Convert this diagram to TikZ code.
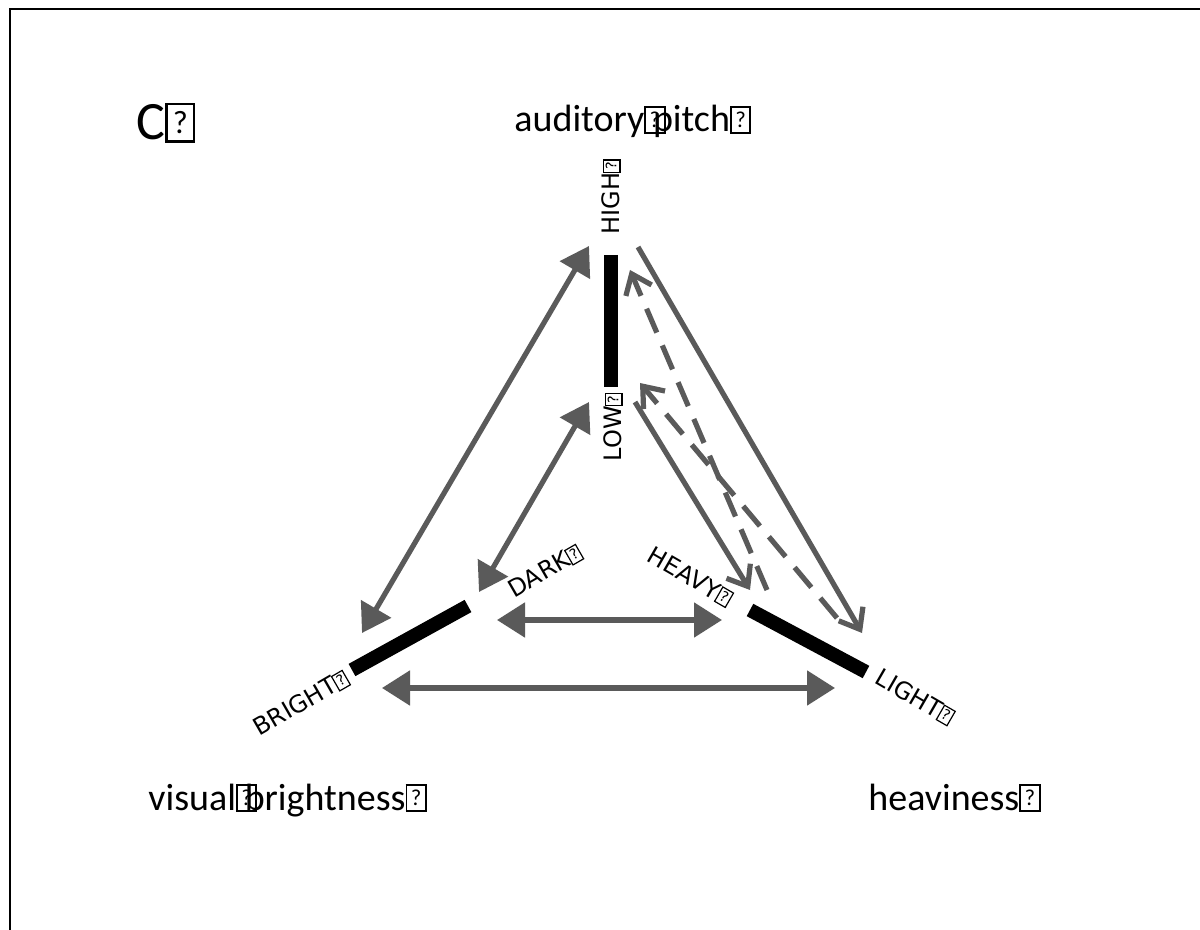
\documentclass[tikz,border=0pt]{standalone}
\usepackage{fontspec}
\usepackage{graphicx}
\setmainfont{Carlito}
\newfontfamily\labfont{DejaVu Sans}
\usetikzlibrary{arrows.meta}
\definecolor{arrowgray}{HTML}{5A5A5A}
\newcommand\qb{{\setlength\fboxsep{0pt}\setlength\fboxrule{0.05em}\fbox{\rule{0pt}{0.64em}\makebox[0.46em]{\raisebox{0.12em}{\scalebox{0.6}{?}}}}}}
\newcommand\qs{\makebox[0.23em][l]{\qb}}
\tikzset{
  garrow/.style={draw=arrowgray, line width=2.6pt},
  dbl/.style={garrow, {Triangle[length=14pt,width=17pt]}-{Triangle[length=14pt,width=17pt]}},
  opn/.style={garrow, -{Straight Barb[length=9pt,width=14pt]}},
  dsh/.style={opn, dash pattern=on 13pt off 7pt},
  barline/.style={draw=black, line width=7pt},
  bigtxt/.style={inner sep=0pt, anchor=base west, font=\fontsize{19}{23}\selectfont},
  smalltxt/.style={inner sep=0pt, font=\labfont\fontsize{12}{14}\selectfont},
  frame/.style={draw=black, line width=1.1pt}
}
\begin{document}
\begin{tikzpicture}[x=0.5pt,y=-0.5pt]
\useasboundingbox (0,0) rectangle (1200,930);
% frame
\coordinate (fr1) at (1200,9);
\coordinate (fr2) at (10,9);
\coordinate (fr3) at (10,930);
\draw[frame] (fr1) -- (fr2) -- (fr3);
% titles
\node[inner sep=0pt, anchor=base west, font=\fontsize{27}{32}\selectfont] (ttlC) at (136,140) {C\qb};
\node[bigtxt] (ttlA) at (514,132) {auditory\qs pitch\qb};
\node[bigtxt] (ttlV) at (148,810) {visual\qs brightness\qb};
\node[bigtxt] (ttlH) at (868,810) {heaviness\qb};
% bars
\coordinate (pv1) at (611,255); \coordinate (pv2) at (611,387);
\coordinate (bv1) at (352,670); \coordinate (bv2) at (468,606);
\coordinate (hv1) at (750,610); \coordinate (hv2) at (866,672);
\draw[barline] (pv1) -- (pv2);
\draw[barline] (bv1) -- (bv2);
\draw[barline] (hv1) -- (hv2);
% small labels
\node[smalltxt, rotate=90] (high) at (611,197) {HIGH\qb};
\node[smalltxt, rotate=90] (low) at (613,427) {LOW\qb};
\node[smalltxt, rotate=30] (dark) at (545,571) {DARK\qb};
\node[smalltxt, rotate=-30] (heavy) at (690,577) {HEAVY\qb};
\node[smalltxt, rotate=30] (bright) at (301,703) {BRIGHT\qb};
\node[smalltxt, rotate=-30] (light) at (915,697) {LIGHT\qb};
% arrow end points
\coordinate (a1s) at (362,633); \coordinate (a1e) at (589,246);
\coordinate (a2s) at (479,592); \coordinate (a2e) at (589,402);
\coordinate (a3s) at (497,620); \coordinate (a3e) at (722,620);
\coordinate (a4s) at (382,688); \coordinate (a4e) at (835,688);
\coordinate (a5s) at (638,247); \coordinate (a5e) at (862,633);
\coordinate (a6s) at (635,402); \coordinate (a6e) at (750,590);
\coordinate (a7s) at (767,590); \coordinate (a7e) at (630,270);
\coordinate (a8s) at (837,618); \coordinate (a8e) at (640,383);
% arrows
\draw[dbl] (a1s) -- (a1e);
\draw[dbl] (a2s) -- (a2e);
\draw[dbl] (a3s) -- (a3e);
\draw[dbl] (a4s) -- (a4e);
\draw[opn] (a5s) -- (a5e);
\draw[opn] (a6s) -- (a6e);
\draw[dsh] (a7s) -- (a7e);
\draw[dsh] (a8s) -- (a8e);
\end{tikzpicture}
\end{document}
